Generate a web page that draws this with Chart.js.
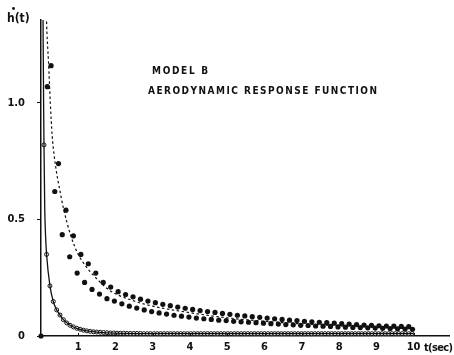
<!DOCTYPE html>
<html>
<head>
<meta charset="utf-8">
<script src="https://cdn.jsdelivr.net/npm/chart.js@4.4.1/dist/chart.umd.min.js"></script>
<style>
  html, body { margin: 0; padding: 0; background: #fff; }
  #c { display: block; }
</style>
</head>
<body>
<canvas id="c" width="454" height="355"></canvas>
<script>
// Model B: aerodynamic response function h'(t)

// time axis tick marks (sec) and their labels
const xTickValues = [1, 2, 3, 4, 5, 6, 7, 8, 9, 10];
const xTickLabels = ['1', '2', '3', '4', '5', '6', '7', '8', '9', '10'];
// response axis ticks
const yTickValues = [0, 0.5, 1.0];
const yTickLabels = ['0', '0.5', '1.0'];

// open circles: fast-decaying response
const openT = [
  0.08, 0.15, 0.24, 0.33, 0.42, 0.51, 0.60, 0.69, 0.78, 0.87, 0.96,
  1.05, 1.14, 1.23, 1.32, 1.41, 1.50, 1.59, 1.68, 1.77, 1.86, 1.95,
  2.04, 2.13, 2.22, 2.31, 2.40, 2.49, 2.58, 2.67, 2.76, 2.85, 2.94,
  3.03, 3.12, 3.21, 3.30, 3.39, 3.48, 3.57, 3.66, 3.75, 3.84, 3.93,
  4.02, 4.11, 4.20, 4.29, 4.38, 4.47, 4.56, 4.65, 4.74, 4.83, 4.92,
  5.01, 5.10, 5.19, 5.28, 5.37, 5.46, 5.55, 5.64, 5.73, 5.82, 5.91,
  6.00, 6.09, 6.18, 6.27, 6.36, 6.45, 6.54, 6.63, 6.72, 6.81, 6.90,
  6.99, 7.08, 7.17, 7.26, 7.35, 7.44, 7.53, 7.62, 7.71, 7.80, 7.89,
  7.98, 8.07, 8.16, 8.25, 8.34, 8.43, 8.52, 8.61, 8.70, 8.79, 8.88,
  8.97, 9.06, 9.15, 9.24, 9.33, 9.42, 9.51, 9.60, 9.69, 9.78, 9.87,
  9.96
];
const openH = [
  0.82, 0.35, 0.215, 0.148, 0.112, 0.090, 0.070, 0.056, 0.046, 0.039, 0.033,
  0.029, 0.025, 0.022, 0.020, 0.018, 0.017, 0.016, 0.015, 0.014, 0.013, 0.013,
  0.012, 0.012, 0.012, 0.011, 0.011, 0.011, 0.011, 0.011, 0.010, 0.010, 0.010,
  0.010, 0.010, 0.010, 0.010, 0.010, 0.010, 0.010, 0.010, 0.010, 0.010, 0.010,
  0.010, 0.010, 0.010, 0.010, 0.010, 0.010, 0.010, 0.010, 0.010, 0.010, 0.010,
  0.010, 0.010, 0.010, 0.010, 0.010, 0.010, 0.010, 0.010, 0.010, 0.010, 0.010,
  0.010, 0.010, 0.010, 0.010, 0.010, 0.010, 0.010, 0.010, 0.010, 0.010, 0.010,
  0.010, 0.010, 0.010, 0.010, 0.010, 0.010, 0.010, 0.010, 0.010, 0.010, 0.010,
  0.010, 0.010, 0.010, 0.010, 0.010, 0.010, 0.010, 0.010, 0.010, 0.010, 0.010,
  0.010, 0.010, 0.010, 0.010, 0.010, 0.010, 0.010, 0.010, 0.010, 0.010, 0.010,
  0.010
];

// solid curve through the open circles
const fitT = [0.05, 0.06, 0.07, 0.08, 0.10, 0.12, 0.15, 0.24, 0.33, 0.42, 0.51, 0.60, 0.78, 0.96, 1.23, 1.50, 2.00, 3.00, 5.00, 10.0];
const fitH = [1.50, 1.22, 1.00, 0.82, 0.55, 0.44, 0.35, 0.215, 0.148, 0.112, 0.090, 0.070, 0.046, 0.033, 0.022, 0.017, 0.012, 0.010, 0.010, 0.010];

// filled dots, lower row
const lowT = [
  0.17, 0.37, 0.57, 0.77, 0.97, 1.17, 1.37, 1.57, 1.77, 1.97,
  2.17, 2.37, 2.57, 2.77, 2.97, 3.17, 3.37, 3.57, 3.77, 3.97,
  4.17, 4.37, 4.57, 4.77, 4.97, 5.17, 5.37, 5.57, 5.77, 5.97,
  6.17, 6.37, 6.57, 6.77, 6.97, 7.17, 7.37, 7.57, 7.77, 7.97,
  8.17, 8.37, 8.57, 8.77, 8.97, 9.17, 9.37, 9.57, 9.77, 9.97
];
const lowH = [
  1.07, 0.62, 0.435, 0.34, 0.27, 0.23, 0.20, 0.18, 0.16, 0.15,
  0.138, 0.128, 0.120, 0.112, 0.105, 0.099, 0.094, 0.089, 0.085, 0.081,
  0.077, 0.074, 0.071, 0.068, 0.066, 0.063, 0.061, 0.059, 0.057, 0.055,
  0.053, 0.051, 0.049, 0.048, 0.046, 0.045, 0.043, 0.042, 0.041, 0.039,
  0.038, 0.037, 0.036, 0.035, 0.034, 0.033, 0.032, 0.031, 0.030, 0.029
];
// filled dots, upper row
const highT = [
  0.27, 0.47, 0.67, 0.87, 1.07, 1.27, 1.47, 1.67, 1.87, 2.07,
  2.27, 2.47, 2.67, 2.87, 3.07, 3.27, 3.47, 3.67, 3.87, 4.07,
  4.27, 4.47, 4.67, 4.87, 5.07, 5.27, 5.47, 5.67, 5.87, 6.07,
  6.27, 6.47, 6.67, 6.87, 7.07, 7.27, 7.47, 7.67, 7.87, 8.07,
  8.27, 8.47, 8.67, 8.87, 9.07, 9.27, 9.47, 9.67, 9.87
];
const highH = [
  1.16, 0.74, 0.54, 0.43, 0.35, 0.31, 0.27, 0.23, 0.21, 0.19,
  0.178, 0.168, 0.158, 0.150, 0.143, 0.136, 0.130, 0.124, 0.119, 0.114,
  0.109, 0.105, 0.101, 0.097, 0.093, 0.089, 0.086, 0.083, 0.080, 0.077,
  0.074, 0.071, 0.068, 0.066, 0.063, 0.061, 0.059, 0.057, 0.055, 0.053,
  0.051, 0.049, 0.047, 0.046, 0.044, 0.043, 0.042, 0.041, 0.040
];
// the start point at the origin
const originT = [0];
const originH = [0];

// dashed curve through the filled dots
const dashT = [0.12, 0.16, 0.20, 0.25, 0.30, 0.40, 0.50, 0.60, 0.80, 1.00, 1.25, 1.50, 1.85, 2.50, 3.00, 4.00, 5.00, 6.00, 7.00, 8.00, 9.00, 10.0];
const dashH = [1.50, 1.30, 1.18, 1.00, 0.86, 0.72, 0.63, 0.55, 0.43, 0.35, 0.29, 0.245, 0.195, 0.150, 0.128, 0.100, 0.078, 0.063, 0.052, 0.044, 0.038, 0.033];

const X_MAX = 10.95;
const Y_MAX = 1.356;
const FONT = '"DejaVu Sans Condensed", "Liberation Sans", Arial, sans-serif';
const INK = '#111';

const pts = (ts, hs) => ts.map((t, i) => ({ x: t, y: hs[i] }));

// text with even letter spacing so that it spans a given width
function spacedText(ctx, text, x, y, width) {
  const chars = [...text];
  const widths = chars.map(c => ctx.measureText(c).width);
  const total = widths.reduce((a, b) => a + b, 0);
  const gap = chars.length > 1 ? (width - total) / (chars.length - 1) : 0;
  let cx = x;
  chars.forEach((c, i) => { ctx.fillText(c, cx, y); cx += widths[i] + gap; });
}

const decor = {
  id: 'decor',
  afterDraw(chart) {
    const ctx = chart.ctx;
    const xs = chart.scales.x;
    const area = chart.chartArea;
    ctx.save();
    // small inward tick marks on the time axis
    ctx.strokeStyle = INK;
    ctx.lineWidth = 1;
    xTickValues.forEach(v => {
      const px = Math.round(xs.getPixelForValue(v)) + 0.5;
      ctx.beginPath();
      ctx.moveTo(px, area.bottom - 3);
      ctx.lineTo(px, area.bottom);
      ctx.stroke();
    });
    ctx.fillStyle = INK;
    ctx.textBaseline = 'middle';
    ctx.textAlign = 'left';
    // axis name h with the time-derivative dot
    ctx.font = 'bold 12px ' + FONT;
    ctx.fillText('h(t)', 7, 19);
    ctx.beginPath();
    ctx.arc(13.5, 8.5, 1.4, 0, Math.PI * 2);
    ctx.fill();
    ctx.font = 'bold 11px ' + FONT;
    spacedText(ctx, 't(sec)', 424, 348, 29);
    ctx.font = 'bold 10px ' + FONT;
    spacedText(ctx, 'MODEL B', 152, 71, 56);
    spacedText(ctx, 'AERODYNAMIC RESPONSE FUNCTION', 148, 91, 229);
    ctx.restore();
  }
};

new Chart(document.getElementById('c'), {
  type: 'scatter',
  data: {
    datasets: [
      {
        data: pts(fitT, fitH), showLine: true, pointRadius: 0,
        borderColor: INK, borderWidth: 1.3, cubicInterpolationMode: 'monotone', clip: 0
      },
      {
        data: pts(dashT, dashH), showLine: true, pointRadius: 0,
        borderColor: INK, borderWidth: 1.2, borderDash: [2.5, 2.5], cubicInterpolationMode: 'monotone', clip: 0
      },
      {
        data: pts(openT, openH), showLine: false, pointRadius: 2, pointBorderWidth: 1,
        pointBackgroundColor: '#fff', pointBorderColor: INK, clip: false
      },
      {
        data: pts(lowT, lowH), showLine: false, pointRadius: 2.6, pointBorderWidth: 0,
        pointBackgroundColor: INK, clip: false
      },
      {
        data: pts(highT, highH), showLine: false, pointRadius: 2.6, pointBorderWidth: 0,
        pointBackgroundColor: INK, clip: false
      },
      {
        data: pts(originT, originH), showLine: false, pointRadius: 2.6, pointBorderWidth: 0,
        pointBackgroundColor: INK, clip: false
      }
    ]
  },
  options: {
    responsive: false,
    animation: false,
    devicePixelRatio: 1,
    layout: { padding: { left: 0, top: 20, right: 4, bottom: 0 } },
    plugins: { legend: { display: false }, tooltip: { enabled: false } },
    scales: {
      x: {
        type: 'linear', position: 'bottom', min: 0, max: X_MAX,
        afterBuildTicks: s => { s.ticks = xTickValues.map(v => ({ value: v })); },
        afterFit: s => { s.height = 19; },
        ticks: {
          autoSkip: false, maxRotation: 0, padding: 5, color: INK,
          font: { family: FONT, size: 11, weight: 'bold' },
          callback: v => { const i = xTickValues.indexOf(v); return i >= 0 ? xTickLabels[i] : ''; }
        },
        grid: { display: true, drawOnChartArea: false, drawTicks: false },
        border: { display: true, color: INK, width: 1.5 }
      },
      y: {
        type: 'linear', position: 'left', min: 0, max: Y_MAX,
        afterBuildTicks: s => { s.ticks = yTickValues.map(v => ({ value: v })); },
        afterFit: s => { s.width = 41; },
        ticks: {
          padding: 12, color: INK,
          font: { family: FONT, size: 11, weight: 'bold' },
          callback: v => { const i = yTickValues.indexOf(v); return i >= 0 ? yTickLabels[i] : ''; }
        },
        grid: { display: true, drawOnChartArea: false, drawTicks: true, tickLength: 4, color: INK, lineWidth: 1 },
        border: { display: true, color: INK, width: 1.5 }
      }
    }
  },
  plugins: [decor]
});
</script>
</body>
</html>
